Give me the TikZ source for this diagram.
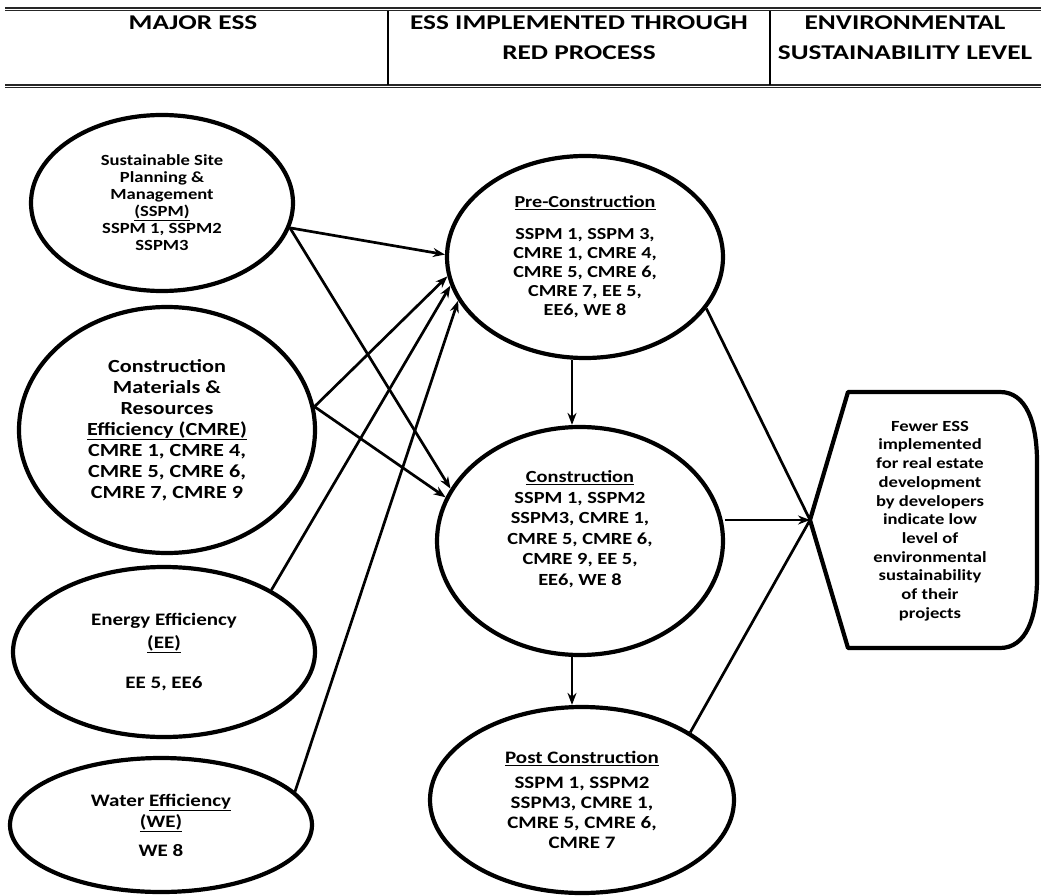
\documentclass[tikz,border=0pt]{standalone}
\usepackage{fontspec}
\setmainfont{Carlito}[FakeStretch=1.2]
\newfontfamily\hdrfont{Carlito}[FakeStretch=1.3]
\usetikzlibrary{shapes.geometric,arrows.meta}
\tikzset{
  ess/.style={ellipse, draw, line width=4.2pt, inner sep=0pt, align=center},
  conn/.style={line width=2.7pt, -{Stealth[length=12pt,width=9pt]}},
  plain/.style={line width=2.7pt},
  hdr/.style={font=\hdrfont\fontsize{21}{30}\selectfont\bfseries, align=center},
  rule/.style={line width=1.4pt, draw=black!85}
}
\newcommand{\fs}[2]{\fontsize{#1}{#2}\selectfont\bfseries}
\begin{document}
\begin{tikzpicture}[x=1pt,y=-1pt]
\useasboundingbox (0,0) rectangle (1041,896);
% header table
\draw[rule] (5,8) -- (1041,8);
\draw[rule] (5,10.8) -- (1041,10.8);
\draw[rule] (5,85) -- (1041,85);
\draw[rule] (5,87.8) -- (1041,87.8);
\draw[line width=1.3pt] (388,10.8) -- (388,85);
\draw[line width=1.3pt] (770,10.8) -- (770,85);
\node[hdr] (h1) at (193,23) {MAJOR ESS};
\node[hdr] (h2) at (579,38) {ESS IMPLEMENTED THROUGH\\RED PROCESS};
\node[hdr] (h3) at (905,38) {ENVIRONMENTAL\\SUSTAINABILITY LEVEL};
% left ellipses
\node[ess, minimum width=262pt, minimum height=176pt, font=\fs{15.5}{17}] (sspm) at (162,203)
  {Sustainable Site\\Planning \&\\Management\\\underline{(SSPM)}\\SSPM 1, SSPM2\\SSPM3};
\node[ess, minimum width=296pt, minimum height=246pt, font=\fs{18.5}{21}] (cmre) at (167,430)
  {Construction\\Materials \&\\Resources\\\underline{Efficiency (CMRE)}\\CMRE 1, CMRE 4,\\CMRE 5, CMRE 6,\\CMRE 7, CMRE 9};
\node[ess, minimum width=302pt, minimum height=170pt, font=\fs{17.5}{23}] (ee) at (164,652)
  {Energy Efficiency\\\underline{(EE)}\\[17pt]EE 5, EE6};
\node[ess, minimum width=302pt, minimum height=134pt, font=\fs{17.5}{21}] (we) at (161,825)
  {Water \underline{Efficiency}\\\underline{(WE)}\\[8pt]WE 8};
% middle ellipses
\node[ess, minimum width=276pt, minimum height=202pt, font=\fs{16.8}{19}] (pre) at (585,257)
  {\underline{Pre-Construction}\\[13pt]SSPM 1, SSPM 3,\\CMRE 1, CMRE 4,\\CMRE 5, CMRE 6,\\CMRE 7, EE 5,\\EE6, WE 8};
\node[ess, minimum width=286pt, minimum height=228pt, font=\fs{17}{20.5}, text depth=26pt] (constr) at (580,541)
  {\underline{Construction}\\SSPM 1, SSPM2\\SSPM3, CMRE 1,\\CMRE 5, CMRE 6,\\CMRE 9, EE 5,\\EE6, WE 8};
\node[ess, minimum width=304pt, minimum height=186pt, font=\fs{17.5}{20}] (post) at (582,800)
  {\underline{Post Construction}\\[5pt]SSPM 1, SSPM2\\SSPM3, CMRE 1,\\CMRE 5, CMRE 6,\\CMRE 7};
% right display shape
\coordinate (tip) at (810,520);
\draw[line width=4.2pt, line join=round]
  (848,392) -- (1000,392) .. controls (1026,392) and (1037,422) .. (1037,462)
  -- (1037,578) .. controls (1037,618) and (1026,648) .. (1000,648)
  -- (848,648) -- (tip) -- cycle;
\node[font=\fs{15.5}{18.7}, align=center] (res) at (930,521)
  {Fewer ESS\\implemented\\for real estate\\development\\by developers\\indicate low\\level of\\environmental\\sustainability\\of their\\projects};
% connectors
\coordinate (vx) at (572,0);
\draw[conn] (sspm.-11) -- (pre.179);
\draw[conn] (sspm.-11) -- (constr.158);
\draw[conn] (cmre.9) -- (pre.188);
\draw[conn] (cmre.9) -- (constr.162);
\draw[conn] (ee.30) -- (pre.192);
\draw[conn] (we.14) -- (pre.199);
\draw[conn] (pre.south -| vx) -- (constr.north -| vx);
\draw[conn] (constr.south -| vx) -- (post.north -| vx);
\draw[plain] (pre.-23) -- (tip);
\draw[plain] (post.32) -- (tip);
\draw[conn] (tip -| constr.east) -- (tip);
\end{tikzpicture}
\end{document}
